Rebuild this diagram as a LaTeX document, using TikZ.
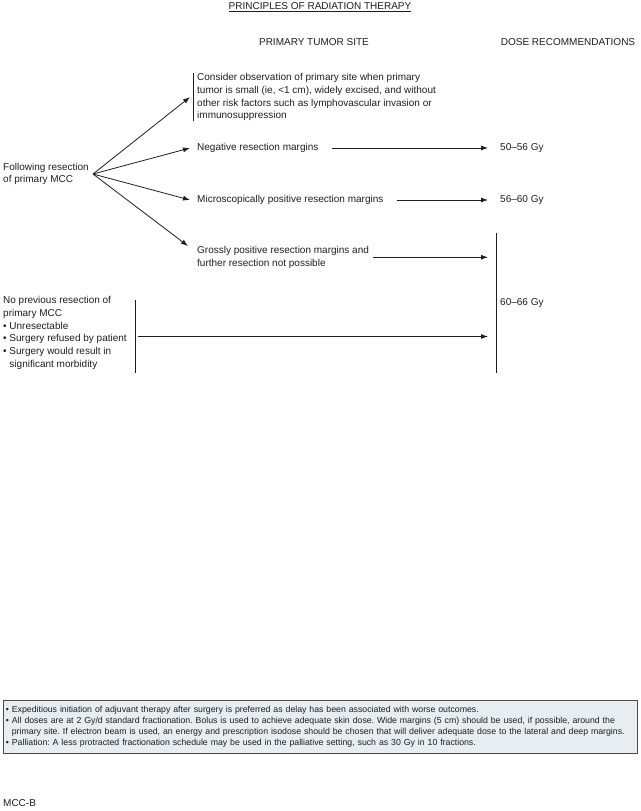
\documentclass[tikz,border=0pt]{standalone}
\usepackage{fontspec}
\setmainfont{Liberation Sans}
\usetikzlibrary{arrows.meta,positioning,calc}
\definecolor{rtink}{HTML}{1E1E1E}
\definecolor{rtnote}{HTML}{E8EDF1}
\definecolor{rtframe}{HTML}{4A4A4A}
\frenchspacing

\begin{document}
\begin{tikzpicture}[
  x=1pt, y=-1pt,
  txt/.style={font=\fontsize{10}{12.8}\selectfont, text=rtink, align=left, inner sep=0pt},
  head/.style={font=\fontsize{10}{12}\selectfont, text=rtink, inner sep=0pt},
  arrow/.style={-{Latex[length=7pt,width=5pt]}, line width=0.8pt, draw=rtink},
  bar/.style={line width=0.8pt, draw=rtink}
]
  \useasboundingbox (0,0) rectangle (640,811);

  % Titles
  \node[head] (title) at (320,7) {\underline{PRINCIPLES OF RADIATION THERAPY}};
  \node[head] (hsite) at (314,42) {PRIMARY TUMOR SITE};
  \node[head] (hdose) at (568,42) {DOSE RECOMMENDATIONS};

  % After resection
  \node[txt, anchor=west] (follow) at (3,174) {Following resection\\of primary MCC};
  \coordinate (split) at (93,174);

  \node[txt, anchor=north west] (obs) at (197,73) {Consider observation of primary site when primary\\
    tumor is small (ie, <1 cm), widely excised, and without\\
    other risk factors such as lymphovascular invasion or\\
    immunosuppression};
  \draw[bar] ([xshift=-4pt]obs.north west) -- ([xshift=-4pt]obs.south west);

  \node[txt, anchor=west] (neg) at (197,148) {Negative resection margins};
  \node[txt, anchor=west] (micro) at (197,200) {Microscopically positive resection margins};
  \node[txt, anchor=north west] (gross) at (197,246) {Grossly positive resection margins and\\
    further resection not possible};

  \draw[arrow] (split) -- ([xshift=-7pt]obs.west);
  \draw[arrow] (split) -- ([xshift=-7pt]neg.west);
  \draw[arrow] (split) -- ([xshift=-7pt]micro.west);
  \draw[arrow] (split) -- ([xshift=-9pt]gross.north west);

  % Doses
  \node[txt, anchor=west] (d50) at (500,148) {50–56 Gy};
  \node[txt, anchor=west] (d56) at (500,200) {56–60 Gy};
  \node[txt, anchor=west] (d60) at (500,303) {60–66 Gy};
  \coordinate (bartop) at (496,233);
  \coordinate (barbot) at (496,373);
  \draw[bar] (bartop) -- (barbot);

  \draw[arrow] ([xshift=13pt]neg.east) -- ([xshift=-12pt]d50.west);
  \draw[arrow] ([xshift=13pt]micro.east) -- ([xshift=-12pt]d56.west);
  \draw[arrow, shorten >=8pt] ([xshift=4pt]gross.east) -- (gross.east -| bartop);

  % No previous resection
  \node[txt, anchor=north west] (noprev) at (3,296) {No previous resection of\\
    primary MCC\\
    • Unresectable\\
    • Surgery refused by patient\\
    • Surgery would result in\\
    \phantom{• }significant morbidity};
  \coordinate (nptop) at (135,300);
  \coordinate (npbot) at (135,373);
  \coordinate (npmid) at ($(nptop)!0.5!(npbot)$);
  \draw[bar] (nptop) -- (npbot);
  \draw[arrow, shorten >=8pt] ([xshift=3pt]npmid) -- (npmid -| bartop);

  % Notes
  \node[draw=rtframe, fill=rtnote, line width=0.8pt, anchor=north west, minimum width=634pt,
    minimum height=53pt, inner xsep=2.5pt, inner ysep=4pt, text width=629pt, align=left,
    font=\fontsize{8.75}{11.2}\selectfont, text=rtink] (notes) at (3,700) {%
    \mbox{• Expeditious initiation of adjuvant therapy after surgery is preferred as delay has been associated with worse outcomes.}\\
    \mbox{• All doses are at 2 Gy/d standard fractionation. Bolus is used to achieve adequate skin dose. Wide margins (5 cm) should be used, if possible, around the}\\
    \mbox{\phantom{• }primary site. If electron beam is used, an energy and prescription isodose should be chosen that will deliver adequate dose to the lateral and deep margins.}\\
    \mbox{• Palliation: A less protracted fractionation schedule may be used in the palliative setting, such as 30 Gy in 10 fractions.}};

  \node[txt, anchor=west] (code) at (3,803) {MCC-B};
\end{tikzpicture}
\end{document}
